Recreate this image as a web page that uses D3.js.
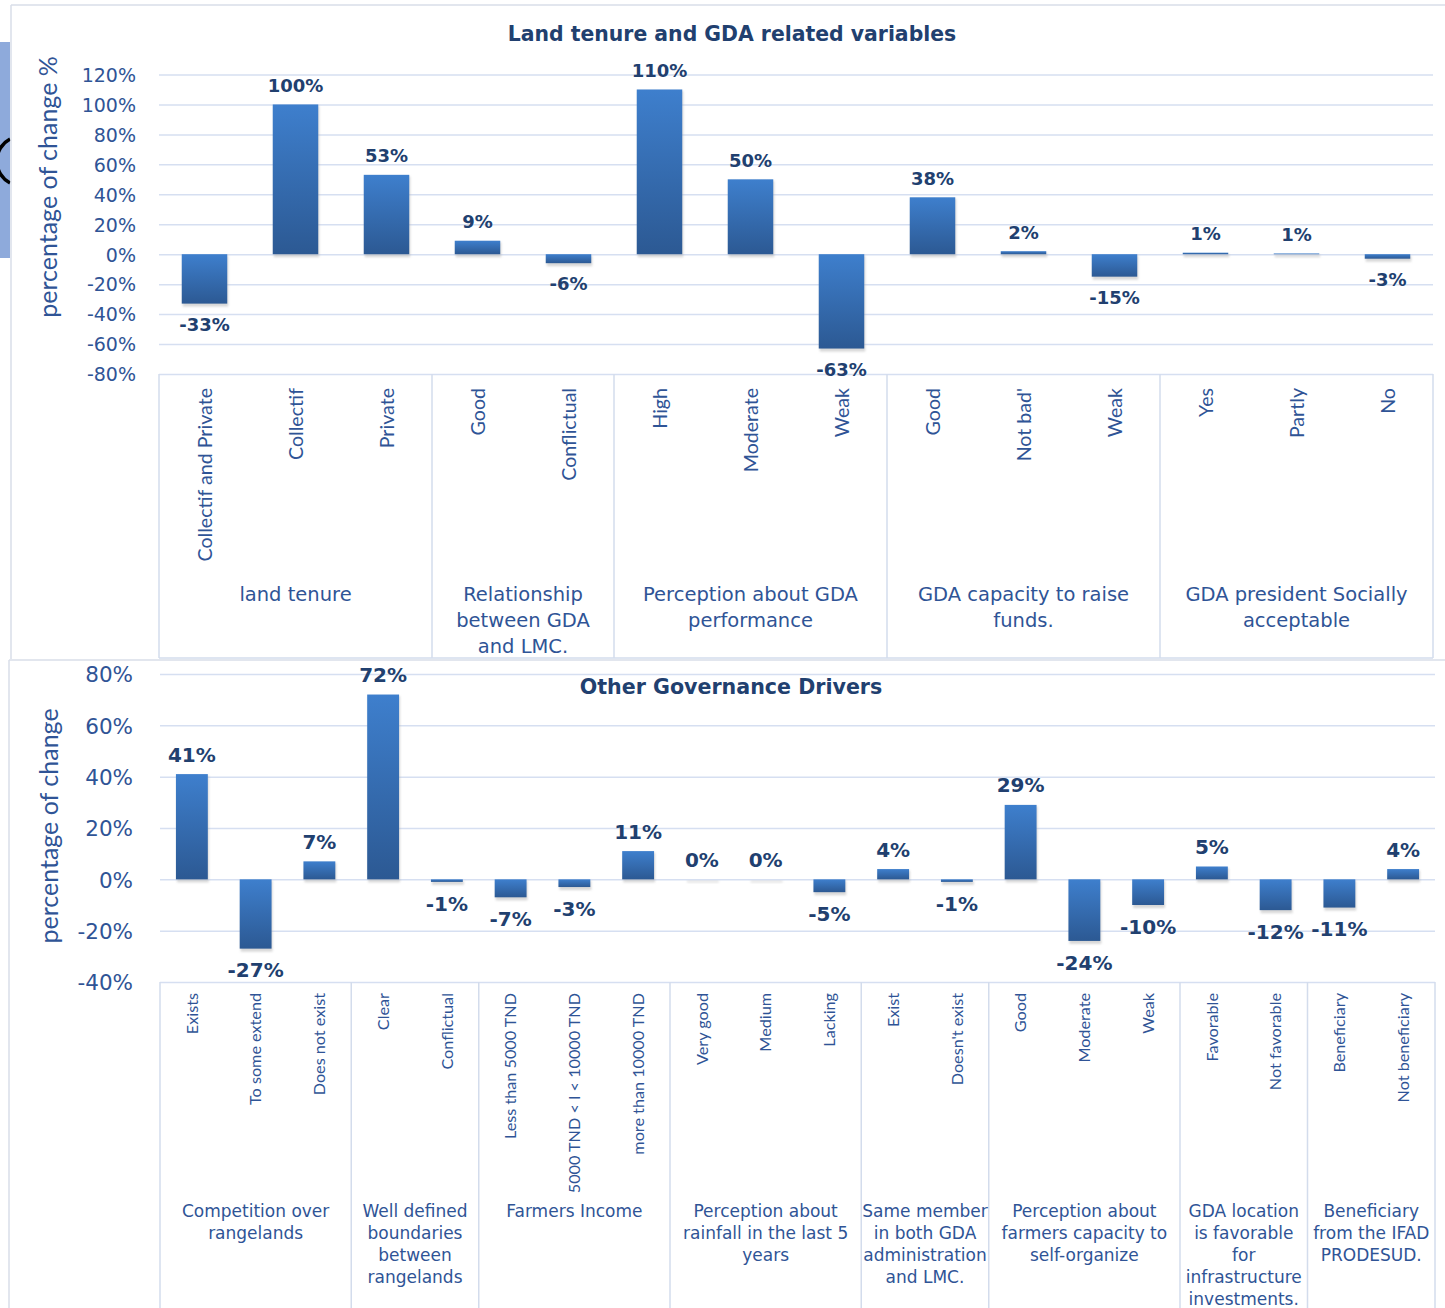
<!DOCTYPE html>
<html><head><meta charset="utf-8">
<script src="https://cdn.jsdelivr.net/npm/d3@7"></script>
<style>body{margin:0;background:#fff;} svg{display:block;}</style>
</head><body>
<svg id="chart" width="1445" height="1308"></svg>
<script>
// ---------- DATA ----------
const topTitle = "Land tenure and GDA related variables";
const topAxisTitle = "percentage of change %";
const topCategories = ["Collectif and Private","Collectif","Private","Good","Conflictual","High","Moderate","Weak","Good","Not bad'","Weak","Yes","Partly","No"];
const topValues = [-33, 100, 53, 9, -6, 110, 50, -63, 38, 2, -15, 1, 0.5, -3];
const topGroupLabels = [["land tenure"],["Relationship","between GDA","and LMC."],["Perception about GDA","performance"],["GDA capacity to raise","funds."],["GDA president Socially","acceptable"]];
const topGroupSizes = [3, 2, 3, 3, 3];
const topTicks = [-80, -60, -40, -20, 0, 20, 40, 60, 80, 100, 120];

const bottomTitle = "Other Governance Drivers";
const bottomAxisTitle = "percentage of change";
const bottomCategories = ["Exists","To some extend","Does not exist","Clear","Conflictual","Less than 5000 TND","5000 TND < I < 10000 TND","more than 10000 TND","Very good","Medium","Lacking","Exist","Doesn't exist","Good","Moderate","Weak","Favorable","Not favorable","Beneficiary","Not beneficiary"];
const bottomValues = [41, -27, 7, 72, -1, -7, -3, 11, 0, 0, -5, 4, -1, 29, -24, -10, 5, -12, -11, 4];
const bottomGroupLabels = [["Competition over","rangelands"],["Well defined","boundaries","between","rangelands"],["Farmers Income"],["Perception about","rainfall in the last 5","years"],["Same member","in both GDA","administration","and LMC."],["Perception about","farmers capacity to","self-organize"],["GDA location","is favorable","for","infrastructure","investments."],["Beneficiary","from the IFAD","PRODESUD."]];
const bottomGroupSizes = [3, 2, 3, 3, 2, 3, 2, 2];
const bottomTicks = [-40, -20, 0, 20, 40, 60, 80];

// ---------- STYLE ----------
const gridColor = "#d6dff1";
const boxColor = "#d3dcec";
const frameColor = "#d8dee9";
const darkText = "#21406f";
const midText = "#2f5496";

const svg = d3.select("#chart");
const defs = svg.append("defs");
const grad = defs.append("linearGradient").attr("id","barGrad").attr("x1",0).attr("y1",0).attr("x2",0).attr("y2",1);
grad.append("stop").attr("offset","0%").attr("stop-color","#3e7fcd");
grad.append("stop").attr("offset","100%").attr("stop-color","#2c5993");
defs.append("filter").attr("id","blur").attr("x","-20%").attr("y","-50%").attr("width","140%").attr("height","200%")
  .append("feGaussianBlur").attr("stdDeviation",1.1);

// decorations of the composite picture
svg.append("rect").attr("x",0).attr("y",42).attr("width",10).attr("height",216).attr("fill","#8eaadb");
svg.append("path").attr("d","M 10 139 A 25 25 0 0 0 10 183").attr("fill","none").attr("stroke","#000").attr("stroke-width",3.5);

// frames
svg.append("line").attr("x1",11).attr("x2",11).attr("y1",5).attr("y2",659).attr("stroke",frameColor).attr("stroke-width",1.5);
svg.append("line").attr("x1",11).attr("x2",1445).attr("y1",5).attr("y2",5).attr("stroke",frameColor).attr("stroke-width",1.5);
svg.append("line").attr("x1",9).attr("x2",9).attr("y1",660).attr("y2",1308).attr("stroke",frameColor).attr("stroke-width",1.5);
svg.append("line").attr("x1",9).attr("x2",1445).attr("y1",660).attr("y2",660).attr("stroke",frameColor).attr("stroke-width",1.5);

function drawChart(cfg) {
  const g = svg.append("g");
  const n = cfg.categories.length;
  const x = d3.scaleBand().domain(d3.range(n)).range([cfg.left, cfg.right]).paddingInner(0.5).paddingOuter(0.25);
  const y = d3.scaleLinear().domain(d3.extent(cfg.ticks)).range([cfg.bottom, cfg.top]);
  const step = x.step(), bw = x.bandwidth();
  const edge = i => x(i) - (step - bw) / 2;

  // gridlines
  const grid = g.append("g").attr("transform", `translate(${cfg.left},0)`)
    .call(d3.axisLeft(y).tickValues(cfg.ticks).tickSize(-(cfg.right - cfg.left)).tickFormat(""));
  grid.select(".domain").remove();
  grid.selectAll(".tick line").attr("stroke", gridColor).attr("stroke-width", 1.5);

  // tick labels
  const ax = g.append("g").attr("transform", `translate(${cfg.tickX},0)`)
    .call(d3.axisLeft(y).tickValues(cfg.ticks).tickSize(0).tickPadding(0).tickFormat(d => d + "%"));
  ax.select(".domain").remove();
  ax.selectAll("text").attr("font-family","DejaVu Sans").attr("font-size",cfg.tickFont).attr("fill",midText).attr("dy","0.36em");

  // axis title
  g.append("text").attr("transform",`translate(${cfg.axisTitleX},${cfg.axisTitleY}) rotate(-90)`)
    .attr("text-anchor","middle").attr("font-family","Lato").attr("font-size",cfg.axisTitleFont)
    .attr("fill",midText).text(cfg.axisTitle);

  // chart title
  g.append("text").attr("x",cfg.titleX).attr("y",cfg.titleY).attr("text-anchor","middle")
    .attr("font-family","DejaVu Sans").attr("font-weight","bold").attr("font-size",cfg.titleFont)
    .attr("fill",darkText).text(cfg.title);

  // category box
  const y0box = y(d3.min(cfg.ticks));
  const cum = [0];
  cfg.groupSizes.forEach(s => cum.push(cum[cum.length - 1] + s));
  const bounds = cum.map(c => c < n ? edge(c) : edge(n - 1) + step);
  g.selectAll(".vline").data(bounds).join("line")
    .attr("x1", d => d).attr("x2", d => d).attr("y1", y0box).attr("y2", cfg.boxBottom)
    .attr("stroke", boxColor).attr("stroke-width", 1.5);
  if (cfg.boxBottomLine) {
    g.append("line").attr("x1", bounds[0]).attr("x2", bounds[bounds.length - 1])
      .attr("y1", cfg.boxBottom).attr("y2", cfg.boxBottom).attr("stroke", boxColor).attr("stroke-width", 1.5);
  }

  // category labels
  g.selectAll(".cat").data(cfg.categories).join("text")
    .attr("transform", (d, i) => `translate(${x(i) + bw / 2},${cfg.catTop}) rotate(-90)`)
    .attr("text-anchor","end").attr("dy","0.36em")
    .attr("font-family","Lato").attr("font-size",cfg.catFont).attr("fill",midText)
    .text(d => d);

  // group labels
  cfg.groupLabels.forEach((lines, gi) => {
    const cx = (bounds[gi] + bounds[gi + 1]) / 2;
    const t = g.append("text").attr("text-anchor","middle").attr("font-family","DejaVu Sans")
      .attr("font-size",cfg.groupFont).attr("fill",midText);
    lines.forEach((ln, li) => {
      t.append("tspan").attr("x", cx).attr("y", cfg.groupY + li * cfg.groupLH).text(ln);
    });
  });

  // bar shadows
  g.selectAll(".shadow").data(cfg.values).join("rect")
    .attr("x", (d, i) => x(i) + 1).attr("width", bw)
    .attr("y", d => y(Math.max(0, d)) + 1.5)
    .attr("height", d => Math.abs(y(d) - y(0)) + 1.5)
    .attr("fill", "#b0b0b0").attr("opacity", 0.5).attr("filter", "url(#blur)");

  // bars
  g.selectAll(".bar").data(cfg.values).join("rect")
    .attr("x", (d, i) => x(i)).attr("width", bw)
    .attr("y", d => y(Math.max(0, d)))
    .attr("height", d => Math.abs(y(d) - y(0)))
    .attr("fill", "url(#barGrad)");

  // data labels
  g.selectAll(".lbl").data(cfg.values).join("text")
    .attr("x", (d, i) => x(i) + bw / 2)
    .attr("y", d => d >= 0 ? y(d) - 12.5 : y(d) + 14 + 0.73 * cfg.labelFont)
    .attr("text-anchor","middle").attr("font-family","DejaVu Sans").attr("font-weight","bold")
    .attr("font-size",cfg.labelFont).attr("fill",darkText)
    .text(d => Math.round(d) + "%");
}

drawChart({
  categories: topCategories, values: topValues, groupLabels: topGroupLabels, groupSizes: topGroupSizes,
  ticks: topTicks, title: topTitle, axisTitle: topAxisTitle,
  left: 159, right: 1433, top: 74.5, bottom: 374, boxBottom: 658, boxBottomLine: true,
  tickX: 136, tickFont: 19, labelFont: 18,
  titleX: 732, titleY: 41, titleFont: 20.4,
  axisTitleX: 57, axisTitleY: 187, axisTitleFont: 25,
  catTop: 388, catFont: 19.6,
  groupY: 601, groupLH: 26, groupFont: 19.5
});

drawChart({
  categories: bottomCategories, values: bottomValues, groupLabels: bottomGroupLabels, groupSizes: bottomGroupSizes,
  ticks: bottomTicks, title: bottomTitle, axisTitle: bottomAxisTitle,
  left: 160, right: 1435, top: 674, bottom: 982, boxBottom: 1310, boxBottomLine: false,
  tickX: 133, tickFont: 21.5, labelFont: 20,
  titleX: 731, titleY: 694, titleFont: 20.6,
  axisTitleX: 58, axisTitleY: 826, axisTitleFont: 25,
  catTop: 993, catFont: 16.2,
  groupY: 1217, groupLH: 22, groupFont: 17
});
</script>
</body></html>
